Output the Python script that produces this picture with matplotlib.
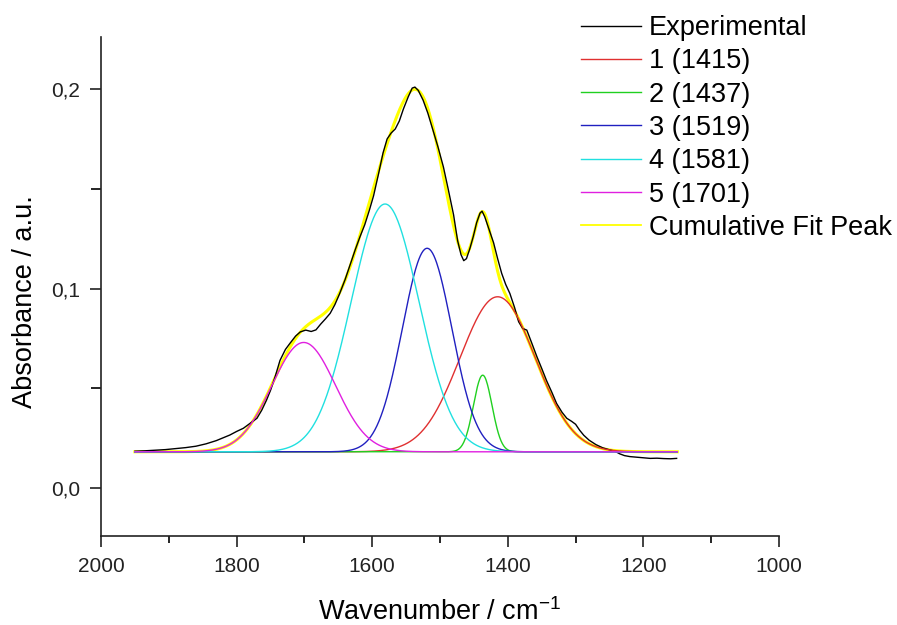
import numpy as np
import matplotlib
matplotlib.use("Agg")
import matplotlib.pyplot as plt
import matplotlib.lines as mlines
from matplotlib.ticker import FuncFormatter, MultipleLocator

plt.rcParams['font.family'] = ['Liberation Sans', 'DejaVu Sans']

# Experimental spectrum
exp_wn = [1950, 1935, 1920, 1905, 1890, 1875, 1860, 1845, 1830, 1820, 1810, 1800, 1790, 1780,
          1770, 1763, 1756, 1750, 1743, 1736, 1728, 1721, 1713, 1706, 1698, 1690, 1683, 1676,
          1669, 1662, 1655, 1648, 1640, 1633, 1625, 1618, 1611, 1604, 1598, 1591, 1584, 1578,
          1572, 1566, 1560, 1554, 1547, 1541, 1537, 1532, 1525, 1518, 1510, 1503, 1495, 1488,
          1480, 1474, 1469, 1465, 1461, 1456, 1451, 1446, 1441, 1438, 1434, 1428, 1421, 1415,
          1409, 1403, 1397, 1390, 1384, 1378, 1372, 1365, 1357, 1350, 1343, 1335, 1328, 1320,
          1313, 1306, 1300, 1294, 1288, 1280, 1270, 1260, 1250, 1242, 1235, 1228, 1220, 1210,
          1200, 1190, 1180, 1170, 1160, 1151]
exp_abs = [0.0185, 0.0187, 0.0190, 0.0193, 0.0198, 0.0203, 0.0210, 0.0222, 0.0238, 0.0252,
           0.0266, 0.0284, 0.0300, 0.0325, 0.0350, 0.0390, 0.0440, 0.0490, 0.0560, 0.0640,
           0.0695, 0.0727, 0.0762, 0.0783, 0.0792, 0.0785, 0.0793, 0.0822, 0.0848, 0.0876,
           0.0920, 0.0975, 0.1045, 0.1115, 0.1195, 0.1260, 0.1320, 0.1395, 0.1465, 0.1570,
           0.1680, 0.1750, 0.1780, 0.1800, 0.1840, 0.1900, 0.1960, 0.2005, 0.2010, 0.1993,
           0.1945, 0.1880, 0.1790, 0.1710, 0.1610, 0.1500, 0.1370, 0.1240, 0.1170, 0.1140,
           0.1150, 0.1200, 0.1260, 0.1330, 0.1378, 0.1388, 0.1360, 0.1300, 0.1230, 0.1150,
           0.1076, 0.1020, 0.0976, 0.0905, 0.0834, 0.0800, 0.0792, 0.0730, 0.0658, 0.0600,
           0.0540, 0.0480, 0.0424, 0.0380, 0.0350, 0.0335, 0.0320, 0.0290, 0.0265, 0.0240,
           0.0218, 0.0202, 0.0192, 0.0185, 0.0172, 0.0163, 0.0158, 0.0155, 0.0152, 0.0149,
           0.0150, 0.0148, 0.0147, 0.0149]

# Gaussian fit peaks
peak_labels = ["1 (1415)", "2 (1437)", "3 (1519)", "4 (1581)", "5 (1701)"]
peak_centers = [1415, 1437, 1519, 1581, 1701]
peak_heights = [0.0777, 0.0384, 0.1020, 0.1242, 0.0548]
peak_sigmas = [55.5, 13.7, 36.5, 50.0, 47.0]
peak_colors = ["#e03030", "#20d020", "#2020c0", "#20e0e0", "#e020e0"]
baseline = 0.0182
fit_range = (1950, 1150)

W, H = 897, 625
fig = plt.figure(figsize=(W / 100, H / 100), dpi=100)
ax = fig.add_axes([101 / W, 1 - 536 / H, (779 - 101) / W, (536 - 37) / H])

wn = np.linspace(fit_range[0], fit_range[1], 801)
comps = [h * np.exp(-(wn - c) ** 2 / (2 * s ** 2)) for c, h, s in zip(peak_centers, peak_heights, peak_sigmas)]
cum = baseline + np.sum(comps, axis=0)

handles = []
ly, = ax.plot(wn, cum, color="#ffff00", lw=2.2, zorder=1, label="Cumulative Fit Peak")
lk, = ax.plot(exp_wn, exp_abs, color="black", lw=1.0, zorder=2, label="Experimental")
handles.append(lk)
for i, (comp, col, lab) in enumerate(zip(comps, peak_colors, peak_labels)):
    l, = ax.plot(wn, baseline + comp, color=col, lw=1.0, zorder=3 + i, label=lab)
    handles.append(l)

ax.set_xlim(2000, 1000)
ax.set_ylim(-0.024, 0.2261)
ax.xaxis.set_major_locator(MultipleLocator(200))
ax.xaxis.set_minor_locator(MultipleLocator(100))
ax.yaxis.set_major_locator(MultipleLocator(0.1))
ax.yaxis.set_minor_locator(MultipleLocator(0.05))
ax.yaxis.set_major_formatter(FuncFormatter(lambda v, p: f"{v:.1f}".replace('.', ',')))
ax.xaxis.set_major_formatter(FuncFormatter(lambda v, p: f"{v:.0f}"))

for s in ["top", "right"]:
    ax.spines[s].set_visible(False)
for s in ["left", "bottom"]:
    ax.spines[s].set_linewidth(1.2)
    ax.spines[s].set_color("#222222")

ax.tick_params(axis='both', which='major', direction='out', length=8, width=1.2, labelsize=15,
               pad=7, colors="#222222")
ax.tick_params(axis='x', which='minor', direction='out', length=5, width=1.2)
ax.tick_params(axis='y', which='minor', direction='out', length=7, width=1.2)

ax.set_xlabel("Wavenumber / cm$^{\\mathregular{-1}}$", fontsize=19.5, labelpad=16)
ax.set_ylabel("Absorbance / a.u.", fontsize=19.5)
ax.yaxis.set_label_coords((38 - 101) / 678, (536 - 302) / 499)

# legend handles: thin lines
leg_handles = [mlines.Line2D([], [], color=h.get_color(), lw=1.0) for h in handles]
leg_handles.append(mlines.Line2D([], [], color="#ffff00", lw=1.3))
leg_labels = [h.get_label() for h in handles] + ["Cumulative Fit Peak"]

fig.legend(handles=leg_handles, labels=leg_labels, loc="upper left",
           bbox_to_anchor=(581 / W, 1 - 15 / H),
           frameon=False, fontsize=19.5, handlelength=2.2, handletextpad=0.3,
           labelspacing=0.27, borderpad=0, borderaxespad=0)

fig.savefig("out.png", dpi=100)
